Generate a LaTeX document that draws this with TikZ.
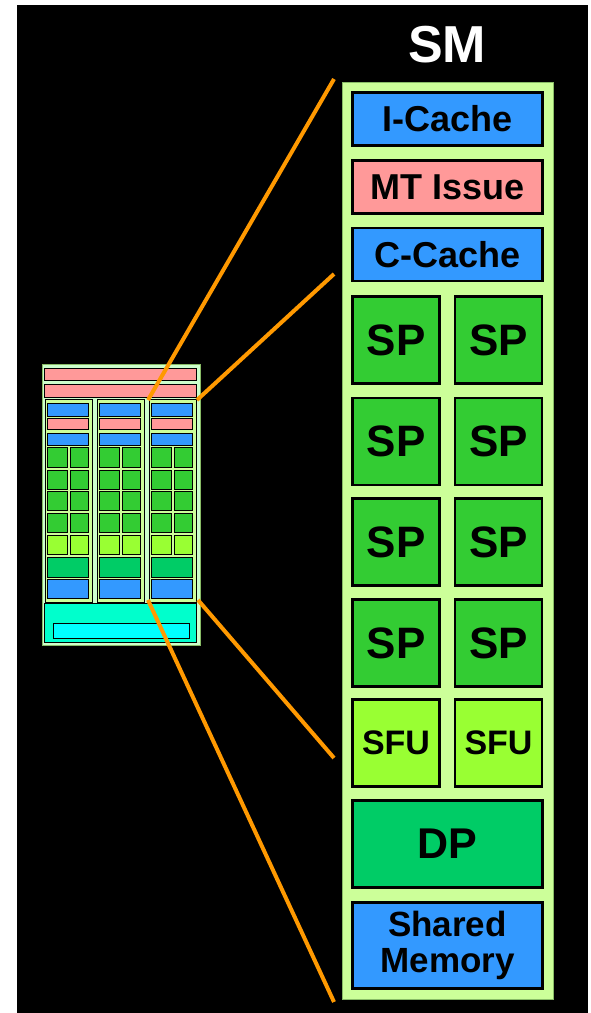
\documentclass[tikz,border=0pt]{standalone}
\usepackage{fontspec}
\setmainfont{Liberation Sans}
\definecolor{smbg}{HTML}{CCFF99}
\definecolor{smedge}{HTML}{88BB66}
\definecolor{chipbg}{HTML}{CCFFCC}
\definecolor{blueC}{HTML}{3399FF}
\definecolor{pinkC}{HTML}{FF9999}
\definecolor{spC}{HTML}{33CC33}
\definecolor{sfuC}{HTML}{99FF33}
\definecolor{dpC}{HTML}{00CC66}
\definecolor{aquaC}{HTML}{00FFCC}
\definecolor{cyanC}{HTML}{00FFFF}
\definecolor{orangeC}{HTML}{FF9900}
\tikzset{
  bigbox/.style={draw=black, line width=2.6pt, inner sep=0pt, font=\bfseries, text=black, align=center},
  wide/.style={bigbox, minimum width=190, minimum height=53},
  sq/.style={bigbox, minimum width=87, minimum height=87},
  smallbox/.style={draw=black, line width=0.9pt},
  zoomline/.style={draw=orangeC, line width=4pt},
}
\begin{document}
\begin{tikzpicture}[x=1pt,y=-1pt]
\useasboundingbox (0,0) rectangle (590,1013);
\fill[white] (0,0) rectangle (590,1013);
\fill[black] (17,5) rectangle (588,1013);

% ---- SM title
\node[font=\bfseries\fontsize{52}{56}\selectfont, text=white, anchor=base, inner sep=0] (smtitle) at (447,62) {SM};

% ---- SM block
\draw[fill=smbg, draw=smedge, line width=1pt] (342,82) rectangle (553,999);
\node[wide, fill=blueC, font=\bfseries\fontsize{36}{38}\selectfont] (icache) at (447.5,119) {I-Cache};
\node[wide, fill=pinkC, font=\bfseries\fontsize{36}{38}\selectfont] (mtissue) at (447.5,187) {MT Issue};
\node[wide, fill=blueC, font=\bfseries\fontsize{36}{38}\selectfont] (ccache) at (447.5,254.5) {C-Cache};
\foreach \y/\n in {340/1,441.5/2,542/3,643/4}{
  \node[sq, fill=spC, font=\bfseries\fontsize{44}{46}\selectfont] (spL\n) at (396,\y) {SP};
  \node[sq, fill=spC, font=\bfseries\fontsize{44}{46}\selectfont] (spR\n) at (498.5,\y) {SP};
}
\node[sq, fill=sfuC, font=\bfseries\fontsize{34}{36}\selectfont] (sfuL) at (396,743) {SFU};
\node[sq, fill=sfuC, font=\bfseries\fontsize{34}{36}\selectfont] (sfuR) at (498.5,743) {SFU};
\node[bigbox, fill=dpC, minimum width=190, minimum height=87, font=\bfseries\fontsize{43}{45}\selectfont] (dp) at (447.5,844) {DP};
\node[bigbox, fill=blueC, minimum width=190, minimum height=86, font=\bfseries\fontsize{35}{38}\selectfont] (shmem) at (447.5,945.5) {Shared\\[-2pt]Memory};

% ---- small chip
\draw[fill=chipbg, draw=smedge, line width=1pt] (42,364) rectangle (200,645);
\draw[smallbox, fill=pinkC] (44,368) rectangle (196,380);
\draw[smallbox, fill=pinkC] (44,384) rectangle (196,397);
\foreach \x in {45,97,149}{
  \draw[smallbox, fill=smbg] (\x,399) rectangle (\x+47,602);
  \draw[smallbox, fill=blueC] (\x+2.5,403) rectangle (\x+43.5,416);
  \draw[smallbox, fill=pinkC] (\x+2.5,418.5) rectangle (\x+43.5,429.5);
  \draw[smallbox, fill=blueC] (\x+2.5,433) rectangle (\x+43.5,445);
  \foreach \ya/\yb in {447.5/467,470/489,491.5/510,513/532}{
    \draw[smallbox, fill=spC] (\x+2.5,\ya) rectangle (\x+22,\yb);
    \draw[smallbox, fill=spC] (\x+25,\ya) rectangle (\x+43.5,\yb);
  }
  \draw[smallbox, fill=sfuC] (\x+2.5,535) rectangle (\x+22,554);
  \draw[smallbox, fill=sfuC] (\x+25,535) rectangle (\x+43.5,554);
  \draw[smallbox, fill=dpC] (\x+2.5,557) rectangle (\x+43.5,577);
  \draw[smallbox, fill=blueC] (\x+2.5,579.5) rectangle (\x+43.5,598);
}
\draw[smallbox, fill=aquaC] (44,603.5) rectangle (196,642);
\draw[smallbox, fill=cyanC] (53,623) rectangle (189,638);

% ---- zoom lines
\coordinate (cTL) at (148,400);
\coordinate (cTR) at (197,400);
\coordinate (cBR) at (198,600);
\coordinate (cBL) at (148,600);
\coordinate (sA) at (334,79);
\coordinate (sB) at (334,274);
\coordinate (sC) at (334,758);
\coordinate (sD) at (334,1002);
\draw[zoomline] (cTL) -- (sA);
\draw[zoomline] (cTR) -- (sB);
\draw[zoomline] (cBR) -- (sC);
\draw[zoomline] (cBL) -- (sD);
\end{tikzpicture}
\end{document}
